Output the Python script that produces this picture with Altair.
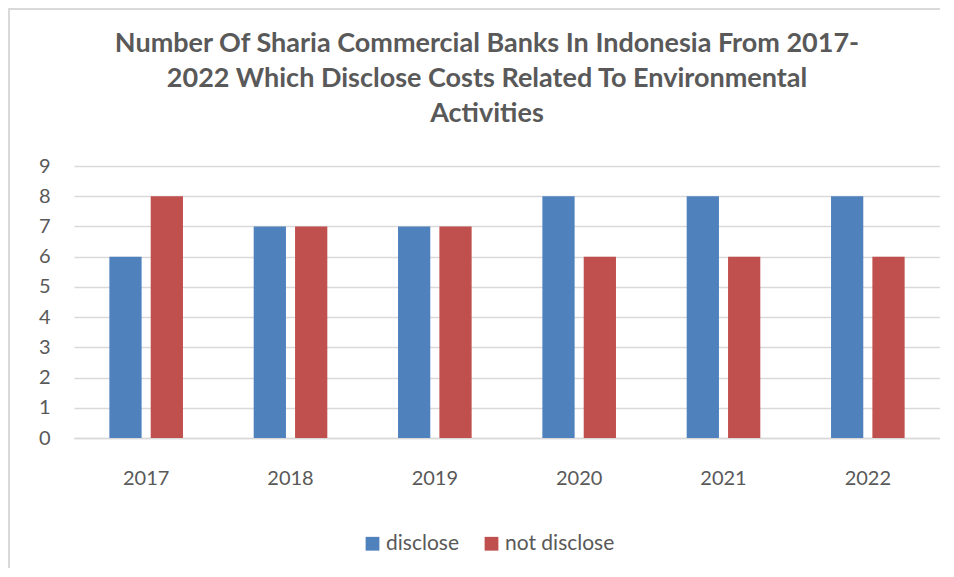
import altair as alt
import pandas as pd

years = ["2017", "2018", "2019", "2020", "2021", "2022"]
disclose = [6, 7, 7, 8, 8, 8]
not_disclose = [8, 7, 7, 6, 6, 6]
series_names = ["disclose", "not disclose"]
colors = ["#4F81BD", "#C0504D"]
title_lines = [
    "Number Of Sharia Commercial Banks In Indonesia From 2017-",
    "2022 Which Disclose Costs Related To Environmental",
    "Activities",
]

rows = []
for y, d, n in zip(years, disclose, not_disclose):
    rows.append({"year": y, "series": series_names[0], "value": d})
    rows.append({"year": y, "series": series_names[1], "value": n})
df = pd.DataFrame(rows)

FONT = "Lato"
GREY = "#595959"
GRID = "#d9d9d9"

bars = alt.Chart(df).mark_bar().encode(
    x=alt.X("year:N", sort=years,
            scale=alt.Scale(paddingInner=0.49, paddingOuter=0.245),
            axis=alt.Axis(title=None, labelAngle=0, ticks=False, domain=True,
                          domainColor=GRID, domainWidth=1.5, grid=False,
                          labelPadding=30)),
    xOffset=alt.XOffset("series:N", sort=series_names,
                        scale=alt.Scale(paddingInner=0.22, paddingOuter=0)),
    y=alt.Y("value:Q", scale=alt.Scale(domain=[0, 9], nice=False),
            axis=alt.Axis(title=None, values=list(range(10)), domain=False,
                          ticks=False, grid=True, gridColor=GRID, gridWidth=1.5,
                          labelPadding=24)),
    color=alt.Color("series:N", sort=series_names,
                    scale=alt.Scale(domain=series_names, range=colors),
                    legend=alt.Legend(title=None, orient="none", legendX=288,
                                      legendY=367, direction="horizontal",
                                      symbolType="square", symbolSize=190,
                                      symbolStrokeWidth=0, labelFontSize=21,
                                      labelFont=FONT, labelColor=GREY,
                                      columnPadding=22, labelOffset=3)),
)

frame_df = pd.DataFrame({"a": [0]})
left_border = alt.Chart(frame_df).mark_rule(color=GRID, strokeWidth=2).encode(
    x=alt.value(-65), y=alt.value(-158), y2=alt.value(402))
top_border = alt.Chart(frame_df).mark_rule(color=GRID, strokeWidth=2).encode(
    x=alt.value(-66), x2=alt.value(880), y=alt.value(-157))

chart = alt.layer(bars, left_border, top_border).properties(
    width=866, height=272,
    padding={"left": 66, "top": 158, "right": 0, "bottom": 130},
    autosize=alt.AutoSizeParams(type="none"),
    title=alt.TitleParams(text=title_lines, font=FONT, fontSize=27,
                          fontWeight="bold", color=GREY, lineHeight=35,
                          anchor="middle", dx=-20, offset=-121),
).configure_view(stroke=None).configure_axis(
    labelFont=FONT, labelFontSize=20, labelColor=GREY
)

chart.save("out.html", embed_options={"renderer": "svg", "actions": False})
